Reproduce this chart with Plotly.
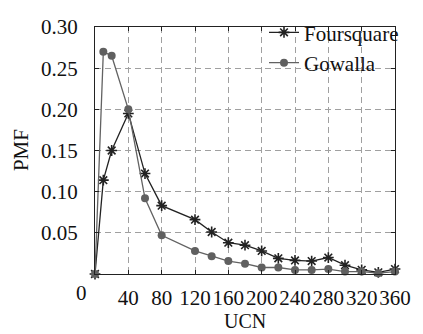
import plotly.graph_objects as go

ucn = [0, 10, 20, 40, 60, 80, 120, 140, 160, 180, 200, 220, 240, 260, 280, 300, 320, 340, 360]
foursquare = [0.0, 0.114, 0.150, 0.195, 0.122, 0.083, 0.066, 0.051, 0.038, 0.035, 0.028, 0.019,
              0.0165, 0.0157, 0.020, 0.0107, 0.005, 0.002, 0.006]
gowalla = [0.0, 0.270, 0.265, 0.200, 0.092, 0.047, 0.028, 0.0215, 0.0157, 0.0126, 0.0079, 0.0079,
           0.005, 0.005, 0.006, 0.003, 0.003, 0.001, 0.003]
xticks = [40, 80, 120, 160, 200, 240, 280, 320, 360]
yticks = [0.05, 0.10, 0.15, 0.20, 0.25, 0.30]

FONT = "Liberation Serif"
FS = 21

fig = go.Figure()
fig.add_trace(go.Scatter(
    x=ucn, y=foursquare, name="Foursquare", mode="lines+markers",
    line=dict(color="#222222", width=1.3),
    marker=dict(symbol="asterisk-open", size=9, color="#222222", line=dict(width=1.6, color="#222222")),
    cliponaxis=False,
))
fig.add_trace(go.Scatter(
    x=ucn, y=gowalla, name="Gowalla", mode="lines+markers",
    line=dict(color="#626262", width=1.3),
    marker=dict(symbol="circle", size=8, color="#606060"),
    cliponaxis=False,
))

fig.update_layout(
    width=423, height=334,
    margin=dict(l=95, r=18, t=15, b=60),
    paper_bgcolor="white", plot_bgcolor="white",
    font=dict(family=FONT, size=FS, color="#111111"),
    showlegend=True,
    legend=dict(x=1.03, xanchor="right", y=1.06, yanchor="top",
                bgcolor="rgba(0,0,0,0)", font=dict(family=FONT, size=FS, color="#111111"),
                itemwidth=30, tracegroupgap=0),
    xaxis=dict(range=[0, 360], tickvals=xticks, ticktext=[str(v) for v in xticks],
               tickangle=0,
               ticks="inside", ticklen=4, tickcolor="#222", showline=True, linecolor="#222",
               linewidth=1.2, mirror="ticks", showgrid=True, gridcolor="#a0a0a0", gridwidth=1,
               griddash="6px,4px", zeroline=False, ticklabelstandoff=5,
               tickfont=dict(family=FONT, size=FS, color="#111111")),
    yaxis=dict(range=[0, 0.30], tickvals=yticks, ticktext=["%.2f" % v for v in yticks],
               ticks="inside", ticklen=4, tickcolor="#222", showline=True, linecolor="#222",
               linewidth=1.2, mirror="ticks", showgrid=True, gridcolor="#a0a0a0", gridwidth=1,
               griddash="6px,4px", zeroline=False, ticklabelstandoff=12,
               tickfont=dict(family=FONT, size=FS, color="#111111")),
)

fig.add_annotation(text="0", x=-25 / 360, xref="paper", y=-0.078, yref="paper", yanchor="middle",
                   showarrow=False, font=dict(family=FONT, size=FS))
fig.add_annotation(text="UCN", x=0.5, xref="paper", y=-0.138, yref="paper", yanchor="top",
                   showarrow=False, font=dict(family=FONT, size=20))
fig.add_annotation(text="PMF", x=-0.248, xref="paper", xanchor="center", y=0.5, yref="paper",
                   textangle=-90, showarrow=False, font=dict(family=FONT, size=FS))

fig.write_html("out.html")
